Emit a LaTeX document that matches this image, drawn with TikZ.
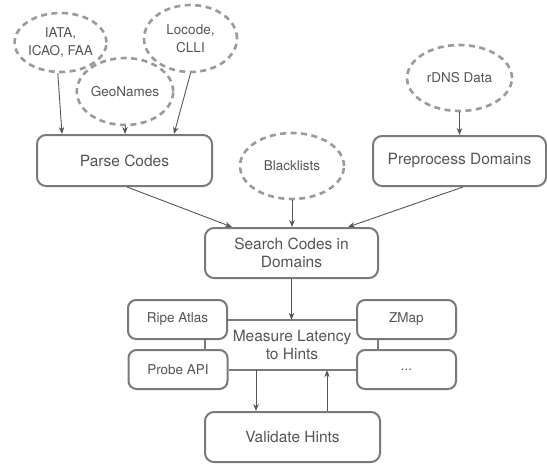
\documentclass[tikz,border=0pt]{standalone}
\usepackage{fontspec}
\setmainfont{TeX Gyre Heros}
\usetikzlibrary{arrows.meta,calc,shapes.geometric}
\definecolor{txt}{HTML}{555555}
\definecolor{boxc}{HTML}{7A7A7A}
\definecolor{dashc}{HTML}{9A9A9A}
\definecolor{arrc}{HTML}{555555}
\tikzset{
  stepbox/.style={draw=boxc, line width=2pt, rounded corners=9pt, fill=white, align=center,
    text=txt, font=\fontsize{15.5}{18.3}\selectfont, inner sep=0pt},
  smallbox/.style={draw=boxc, line width=2pt, rounded corners=8pt, fill=white, align=center,
    text=txt, font=\fontsize{13.5}{16}\selectfont, inner sep=0pt, minimum width=99pt, minimum height=39pt},
  src/.style={ellipse, draw=dashc, line width=2.6pt, dash pattern=on 6pt off 4.5pt, fill=white,
    align=center, text=txt, font=\fontsize{13.5}{18.3}\selectfont, inner sep=0pt},
  arr/.style={draw=arrc, line width=0.9pt, -{Stealth[length=7pt,width=5.5pt]}},
  link/.style={draw=boxc, line width=2pt},
}
\begin{document}
\begin{tikzpicture}[x=1pt,y=-1pt]
\useasboundingbox (0,0) rectangle (547,464);
% sources
\node[src, minimum width=91pt, minimum height=59pt] (iata) at (60.5,42.5) {IATA,\\ICAO, FAA};
\node[src, minimum width=93pt, minimum height=67pt] (locode) at (190.5,38.5) {Locode,\\CLLI};
\node[src, minimum width=94pt, minimum height=67pt] (geo) at (125,91.5) {GeoNames};
\node[src, minimum width=104pt, minimum height=66pt] (black) at (292,166) {Blacklists};
\node[src, minimum width=105pt, minimum height=66pt] (rdns) at (459.5,78) {rDNS Data};
% main boxes
\node[stepbox, minimum width=175pt, minimum height=51pt] (parse) at (124.5,160.5) {Parse Codes};
\node[stepbox, minimum width=173pt, minimum height=50pt] (prep) at (459.5,161) {Preprocess Domains};
\node[stepbox, minimum width=173pt, minimum height=50pt] (search) at (291.5,253) {Search Codes in\\Domains};
\node[stepbox, minimum width=175pt, minimum height=50pt] (valid) at (292.5,437) {Validate Hints};
% measure latency
\node[align=center, text=txt, font=\fontsize{15.5}{18.3}\selectfont, inner sep=0pt,
  minimum width=128pt, minimum height=50pt] (measure) at (292,345) {Measure Latency\\to Hints};
\node[smallbox] (ripe) at (177.5,319.5) {Ripe Atlas};
\node[smallbox] (probe) at (178,369.5) {Probe API};
\node[smallbox] (zmap) at (406.5,319.5) {ZMap};
\node[smallbox] (more) at (406.5,369.5) {...};
\draw[link] (ripe.east) -- (zmap.west);
\draw[link] (probe.east) -- (more.west);
\coordinate (l1) at ($(ripe.south)+(27.5,0)$);
\coordinate (l2) at ($(zmap.south)+(-28.5,0)$);
\draw[link] (l1) -- (l1 |- probe.north);
\draw[link] (l2) -- (l2 |- more.north);
% arrows
\draw[arr] (iata.265) -- ($(parse.north west)+(26,0)$);
\draw[arr] (geo.south) -- (geo.south |- parse.north);
\draw[arr] (locode.south) -- ($(parse.north east)+(-39,0)$);
\draw[arr] (rdns.south) -- (rdns.south |- prep.north);
\draw[arr] ($(parse.south)+(2.5,0)$) -- ($(search.north west)+(28,0)$);
\draw[arr] (black.south) -- (black.south |- search.north);
\draw[arr] ($(prep.south)+(3.5,0)$) -- ($(search.north east)+(-31,0)$);
\draw[arr] (search.south) -- (search.south |- measure.north);
\coordinate (d1) at ($(measure.south)+(-36,0)$);
\coordinate (u1) at ($(valid.north)+(34.5,0)$);
\draw[arr] (d1) -- (d1 |- valid.north);
\draw[arr] (u1) -- (u1 |- measure.south);
\end{tikzpicture}
\end{document}
